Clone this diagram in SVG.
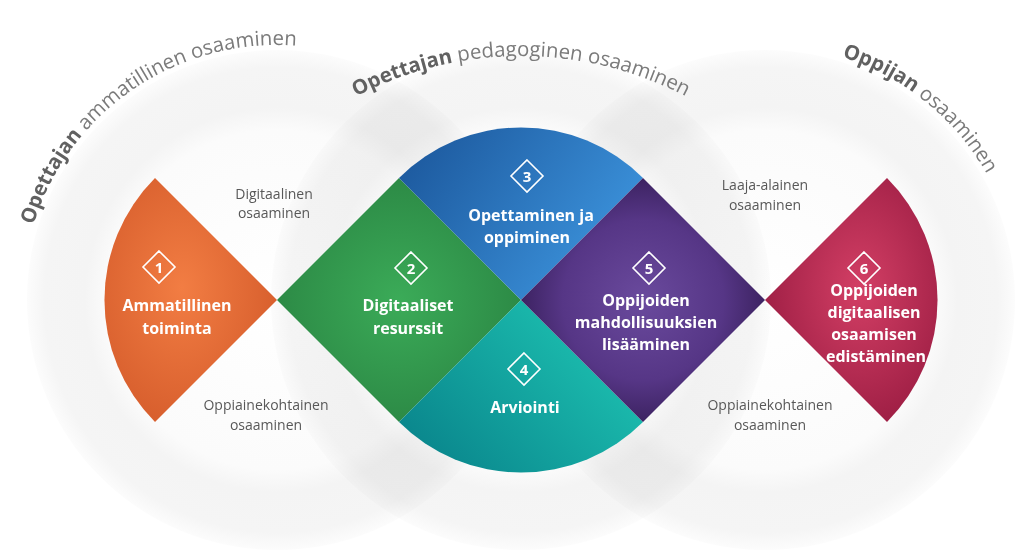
<svg xmlns="http://www.w3.org/2000/svg" xmlns:xlink="http://www.w3.org/1999/xlink" width="1024" height="556" viewBox="0 0 1024 556">
<style>
.bgc{fill:url(#bgGrad);mix-blend-mode:multiply}
.title{font-family:"Open Sans","Liberation Sans",sans-serif;font-size:20.4px;fill:#7b7b7b}
.title .b{font-weight:700;fill:#616161}
.lbl{font-family:"Open Sans","Liberation Sans",sans-serif;font-size:14px;fill:#585858;text-anchor:middle}
.nt{font-family:"Open Sans","Liberation Sans",sans-serif;font-size:16px;font-weight:700;fill:#ffffff;text-anchor:middle}
.badge{fill:none;stroke:#ffffff;stroke-width:1.6}
.num{font-family:"Open Sans","Liberation Sans",sans-serif;font-size:15px;font-weight:700;fill:#ffffff;text-anchor:middle}
</style>
<defs>
<radialGradient id="bgGrad" cx="0.5" cy="0.5" r="0.5">
<stop offset="0" stop-color="#ffffff"/>
<stop offset="0.68" stop-color="#fbfbfb"/>
<stop offset="0.77" stop-color="#f4f4f4"/>
<stop offset="0.93" stop-color="#f5f5f5"/>
<stop offset="1" stop-color="#fcfcfc"/>
</radialGradient>
<radialGradient id="gOrange" cx="0.45" cy="0.45" r="0.6">
<stop offset="0" stop-color="#f27d43"/>
<stop offset="1" stop-color="#d65d2c"/>
</radialGradient>
<radialGradient id="gGreen" cx="0.5" cy="0.5" r="0.55">
<stop offset="0" stop-color="#3bab58"/>
<stop offset="1" stop-color="#2b8744"/>
</radialGradient>
<linearGradient id="gBlue" x1="420" y1="140" x2="610" y2="270" gradientUnits="userSpaceOnUse">
<stop offset="0" stop-color="#1d5a9f"/>
<stop offset="1" stop-color="#3c93dc"/>
</linearGradient>
<linearGradient id="gTeal" x1="440" y1="470" x2="600" y2="320" gradientUnits="userSpaceOnUse">
<stop offset="0" stop-color="#0a878d"/>
<stop offset="1" stop-color="#1dc1b1"/>
</linearGradient>
<radialGradient id="gPurple" cx="0.5" cy="0.5" r="0.55">
<stop offset="0" stop-color="#6a4a9d"/>
<stop offset="0.6" stop-color="#563686"/>
<stop offset="1" stop-color="#351d57"/>
</radialGradient>
<radialGradient id="gRed" cx="0.55" cy="0.45" r="0.6">
<stop offset="0" stop-color="#d33f65"/>
<stop offset="1" stop-color="#9c1d43"/>
</radialGradient>
<path id="arcL" d="M22.7,318.9 A255,255 0 0 1 387.8,70.3"/>
<path id="arcM" d="M316.8,120.4 A356,356 0 0 1 725.2,120.4"/>
<path id="arcR" d="M673.6,61.9 A255,255 0 0 1 1016.9,339.9"/>
</defs>
<rect width="1024" height="556" fill="#ffffff"/>
<g id="background">
<circle class="bgc" cx="277" cy="300" r="250"/>
<circle class="bgc" cx="521" cy="300" r="250"/>
<circle class="bgc" cx="765" cy="300" r="250"/>
</g>
<g id="titles">
<text class="title"><textPath xlink:href="#arcL" href="#arcL" startOffset="50%" text-anchor="middle"><tspan class="b">Opettajan</tspan> ammatillinen osaaminen</textPath></text>
<text class="title"><textPath xlink:href="#arcM" href="#arcM" startOffset="50%" text-anchor="middle"><tspan class="b">Opettajan</tspan> pedagoginen osaaminen</textPath></text>
<text class="title"><textPath xlink:href="#arcR" href="#arcR" startOffset="50%" text-anchor="middle"><tspan class="b">Oppijan</tspan> osaaminen</textPath></text>
</g>
<g id="labels">
<text class="lbl" x="274" y="199">Digitaalinen</text>
<text class="lbl" x="274" y="218">osaaminen</text>
<text class="lbl" x="266" y="410">Oppiainekohtainen</text>
<text class="lbl" x="266" y="430">osaaminen</text>
<text class="lbl" x="765" y="190">Laaja-alainen</text>
<text class="lbl" x="765" y="210">osaaminen</text>
<text class="lbl" x="770" y="410">Oppiainekohtainen</text>
<text class="lbl" x="770" y="430">osaaminen</text>
</g>
<g id="connectors"></g>
<g id="node1">
<path d="M277,300 L155,178 A172.5,172.5 0 0 0 155,422 Z" fill="url(#gOrange)"/>
<path class="badge" d="M159,251 L175,267 L159,283 L143,267 Z"/>
<text class="num" x="159" y="272.5">1</text>
<text class="nt" x="177" y="311">Ammatillinen</text>
<text class="nt" x="177" y="334">toiminta</text>
</g>
<g id="node2">
<path d="M277,300 L399,178 L521,300 L399,422 Z" fill="url(#gGreen)"/>
<path class="badge" d="M411,252 L427,268 L411,284 L395,268 Z"/>
<text class="num" x="411" y="273.5">2</text>
<text class="nt" x="408" y="311">Digitaaliset</text>
<text class="nt" x="408" y="334">resurssit</text>
</g>
<g id="node3">
<path d="M521,300 L399,178 A172.5,172.5 0 0 1 643,178 Z" fill="url(#gBlue)"/>
<path class="badge" d="M527,160 L543,176 L527,192 L511,176 Z"/>
<text class="num" x="527" y="181.5">3</text>
<text class="nt" x="531" y="221">Opettaminen ja</text>
<text class="nt" x="527" y="243">oppiminen</text>
</g>
<g id="node4">
<path d="M521,300 L643,422 A172.5,172.5 0 0 1 399,422 Z" fill="url(#gTeal)"/>
<path class="badge" d="M524,353 L540,369 L524,385 L508,369 Z"/>
<text class="num" x="524" y="374.5">4</text>
<text class="nt" x="525" y="413">Arviointi</text>
</g>
<g id="node5">
<path d="M521,300 L643,178 L765,300 L643,422 Z" fill="url(#gPurple)"/>
<path class="badge" d="M649,252 L665,268 L649,284 L633,268 Z"/>
<text class="num" x="649" y="273.5">5</text>
<text class="nt" x="646" y="306">Oppijoiden</text>
<text class="nt" x="646" y="328">mahdollisuuksien</text>
<text class="nt" x="646" y="350">lisääminen</text>
</g>
<g id="node6">
<path d="M765,300 L887,178 A172.5,172.5 0 0 1 887,422 Z" fill="url(#gRed)"/>
<path class="badge" d="M864,252 L880,268 L864,284 L848,268 Z"/>
<text class="num" x="864" y="273.5">6</text>
<text class="nt" x="874" y="296">Oppijoiden</text>
<text class="nt" x="874" y="318">digitaalisen</text>
<text class="nt" x="874" y="340">osaamisen</text>
<text class="nt" x="876" y="362">edistäminen</text>
</g>
</svg>
